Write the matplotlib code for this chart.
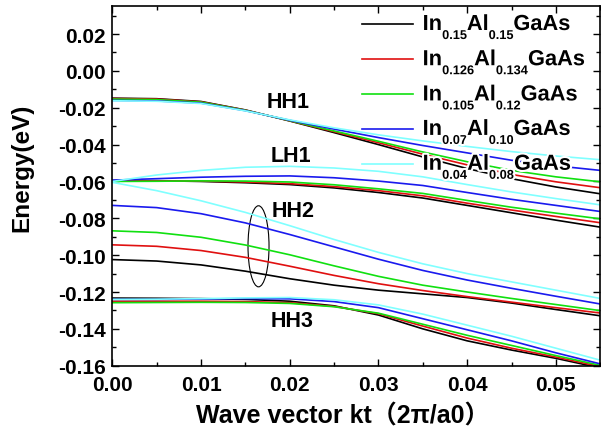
import numpy as np
import matplotlib
matplotlib.use("Agg")
import matplotlib.pyplot as plt
from matplotlib.patches import Ellipse
from matplotlib.lines import Line2D
from matplotlib.ticker import MultipleLocator, FormatStrFormatter
from matplotlib.transforms import ScaledTranslation
import matplotlib.patheffects as pe

plt.rcParams['font.family'] = ['Liberation Sans', 'Noto Sans CJK SC', 'DejaVu Sans']
plt.rcParams['font.weight'] = 'bold'
plt.rcParams['axes.unicode_minus'] = False

# ---------------------------------------------------------------
# Subband dispersion E(kt) for the five well compositions
# ---------------------------------------------------------------
kt = [0.000, 0.005, 0.010, 0.015, 0.020, 0.025, 0.030, 0.035, 0.040, 0.045, 0.050, 0.055]

in_frac = ['0.15', '0.126', '0.105', '0.07', '0.04']
al_frac = ['0.15', '0.134', '0.12', '0.10', '0.08']
colors = ['#000000', '#e01010', '#10e010', '#1a1aee', '#80ffff']

# rows follow in_frac / al_frac order
hh1 = [
    [-0.0148, -0.0151, -0.0166, -0.0212, -0.0272, -0.0335, -0.0400, -0.0467, -0.0530, -0.0585, -0.0630, -0.0667],
    [-0.0150, -0.0153, -0.0168, -0.0213, -0.0271, -0.0330, -0.0390, -0.0452, -0.0510, -0.0562, -0.0602, -0.0634],
    [-0.0153, -0.0156, -0.0170, -0.0214, -0.0270, -0.0326, -0.0382, -0.0440, -0.0493, -0.0540, -0.0575, -0.0602],
    [-0.0160, -0.0163, -0.0175, -0.0216, -0.0268, -0.0316, -0.0362, -0.0405, -0.0445, -0.0485, -0.0515, -0.0540],
    [-0.0162, -0.0165, -0.0177, -0.0217, -0.0266, -0.0309, -0.0347, -0.0380, -0.0410, -0.0438, -0.0462, -0.0482],
]
lh1 = [
    [-0.0595, -0.0596, -0.0600, -0.0607, -0.0617, -0.0635, -0.0660, -0.0690, -0.0730, -0.0770, -0.0810, -0.0848],
    [-0.0597, -0.0597, -0.0598, -0.0603, -0.0612, -0.0628, -0.0650, -0.0678, -0.0718, -0.0755, -0.0790, -0.0824],
    [-0.0600, -0.0599, -0.0597, -0.0598, -0.0603, -0.0618, -0.0640, -0.0665, -0.0703, -0.0740, -0.0772, -0.0803],
    [-0.0593, -0.0585, -0.0577, -0.0572, -0.0570, -0.0580, -0.0598, -0.0622, -0.0660, -0.0697, -0.0730, -0.0763],
    [-0.0600, -0.0565, -0.0540, -0.0523, -0.0518, -0.0527, -0.0545, -0.0575, -0.0617, -0.0657, -0.0693, -0.0727],
]
hh2 = [
    [-0.1024, -0.1032, -0.1053, -0.1087, -0.1128, -0.1163, -0.1190, -0.1210, -0.1230, -0.1260, -0.1295, -0.1329],
    [-0.0944, -0.0952, -0.0975, -0.1012, -0.1060, -0.1110, -0.1155, -0.1192, -0.1225, -0.1255, -0.1285, -0.1314],
    [-0.0868, -0.0877, -0.0903, -0.0945, -0.0998, -0.1058, -0.1115, -0.1163, -0.1200, -0.1235, -0.1268, -0.1301],
    [-0.0730, -0.0742, -0.0775, -0.0825, -0.0888, -0.0955, -0.1022, -0.1083, -0.1135, -0.1180, -0.1223, -0.1265],
    [-0.0605, -0.0650, -0.0705, -0.0768, -0.0840, -0.0915, -0.0985, -0.1047, -0.1100, -0.1145, -0.1190, -0.1235],
]
hh3 = [
    [-0.1233, -0.1234, -0.1236, -0.1240, -0.1250, -0.1275, -0.1325, -0.1400, -0.1465, -0.1515, -0.1560, -0.1612],
    [-0.1250, -0.1250, -0.1250, -0.1252, -0.1258, -0.1278, -0.1318, -0.1385, -0.1450, -0.1505, -0.1553, -0.1605],
    [-0.1258, -0.1257, -0.1256, -0.1257, -0.1262, -0.1280, -0.1315, -0.1375, -0.1435, -0.1490, -0.1545, -0.1598],
    [-0.1240, -0.1240, -0.1238, -0.1236, -0.1237, -0.1252, -0.1285, -0.1345, -0.1405, -0.1465, -0.1530, -0.1590],
    [-0.1240, -0.1239, -0.1236, -0.1232, -0.1230, -0.1242, -0.1270, -0.1320, -0.1380, -0.1440, -0.1505, -0.1570],
]

# band labels: (text, kt, energy) at the left end of the baseline
band_labels = [('HH1', 0.0174, -0.0194), ('LH1', 0.0178, -0.0488),
               ('HH2', 0.0180, -0.0786), ('HH3', 0.0178, -0.1384)]

fig = plt.figure(figsize=(6.01, 4.35), dpi=100)
ax = fig.add_axes([0.1869, 0.157, 0.8118, 0.826])

for band in (hh1, lh1, hh2, hh3):
    for row, c in zip(band, colors):
        ax.plot(kt, row, color=c, lw=1.2)

# ellipse grouping the HH2 curves
ax.add_patch(Ellipse((0.01648, -0.0952), 0.00237, 0.044, fill=False, lw=0.8, color='black'))

for txt, x, y in band_labels:
    ax.text(x, y, txt, fontsize=15.5, fontweight='bold', ha='left', va='baseline')

ax.set_xlim(0, 0.055)
ax.set_ylim(-0.16, 0.035)
ax.xaxis.set_major_locator(MultipleLocator(0.01))
ax.xaxis.set_minor_locator(MultipleLocator(0.005))
ax.yaxis.set_major_locator(MultipleLocator(0.02))
ax.yaxis.set_minor_locator(MultipleLocator(0.01))
ax.xaxis.set_major_formatter(FormatStrFormatter('%.2f'))
ax.yaxis.set_major_formatter(FormatStrFormatter('%.2f'))
ax.tick_params(which='both', direction='in', top=True, right=True, width=1.0)
ax.tick_params(which='major', length=5, labelsize=15)
ax.tick_params(axis='y', which='major', pad=5)
ax.tick_params(axis='x', which='major', pad=6.5)
ax.tick_params(which='minor', length=3)
for lab in ax.get_xticklabels() + ax.get_yticklabels():
    lab.set_fontweight('bold')
for sp in ax.spines.values():
    sp.set_linewidth(1.2)

ax.set_xlabel('Wave vector kt\uff082\u03c0/a0\uff09', fontsize=18, fontweight='bold')
ax.set_ylabel('Energy(eV)', fontsize=17.5, fontweight='bold')
ax.xaxis.set_label_coords(0.473, -0.105)
ax.yaxis.set_label_coords(-0.162, 0.554)

# legend: handle line + In_x Al_y GaAs with small subscripts
renderer = fig.canvas.get_renderer()
halo = [pe.withStroke(linewidth=3, foreground='white')]
row_y = [0.951, 0.853, 0.755, 0.659, 0.562]
for i in range(len(in_frac)):
    y = row_y[i]
    ax.add_line(Line2D([0.512, 0.617], [y, y], color=colors[i], lw=1.2,
                       transform=ax.transAxes, zorder=4))
    pieces = [('In', False), (in_frac[i], True), ('Al', False), (al_frac[i], True), ('GaAs', False)]
    dx = 0.0
    for s, sub in pieces:
        size = 9.2 if sub else 15.7
        dy = -15 if sub else -6
        t = ax.text(0.636, y, s, fontsize=size, fontweight='bold', ha='left', va='baseline',
                    transform=ax.transAxes + ScaledTranslation(dx / 100, dy / 100, fig.dpi_scale_trans),
                    path_effects=halo, zorder=5)
        dx += t.get_window_extent(renderer).width

fig.savefig('out.png', dpi=100)
